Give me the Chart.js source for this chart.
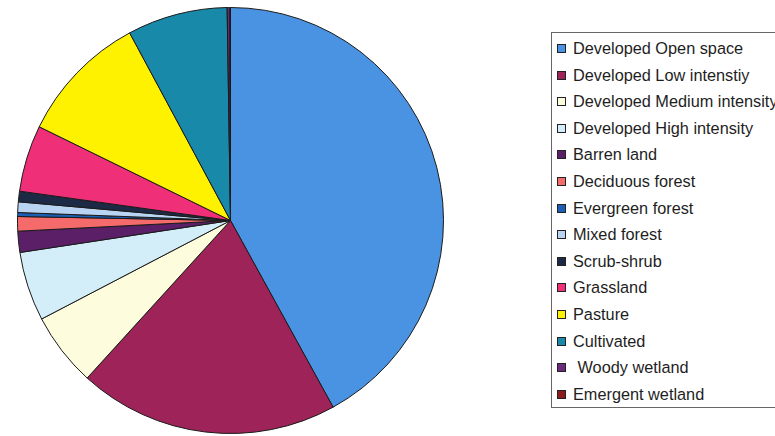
<!DOCTYPE html>
<html>
<head>
<meta charset="utf-8">
<script src="https://cdn.jsdelivr.net/npm/chart.js@4/dist/chart.umd.min.js"></script>
<style>
  html, body { margin: 0; padding: 0; background: #fff; }
  body { width: 775px; height: 436px; overflow: hidden; position: relative; font-family: "Liberation Sans", Arial, sans-serif; }
  #pieWrap { position: absolute; left: 17px; top: 7px; width: 427px; height: 427px; }
  #legend { position: absolute; left: 551px; top: 32px; width: 270px; height: 376px; border: 1px solid #666; box-sizing: border-box; padding-top: 2px; }
  .item { height: 26.6px; line-height: 26.6px; font-size: 16.3px; color: #1e1e1e; white-space: pre; position: relative; padding-left: 21px; }
  .box { position: absolute; left: 5px; top: 9px; width: 7px; height: 7px; border: 1px solid #222; }
</style>
</head>
<body>
<div id="pieWrap"><canvas id="c"></canvas></div>
<div id="legend"></div>
<script>
const categories = [
  "Developed Open space",
  "Developed Low intenstiy",
  "Developed Medium intensity",
  "Developed High intensity",
  "Barren land",
  "Deciduous forest",
  "Evergreen forest",
  "Mixed forest",
  "Scrub-shrub",
  "Grassland",
  "Pasture",
  "Cultivated",
  " Woody wetland",
  "Emergent wetland"
];
const percentValues = [42.0, 19.75, 5.6, 5.25, 1.6, 1.1, 0.3, 0.8, 0.8, 5.05, 9.9, 7.6, 0.2, 0.05];
const sliceColors = [
  "#4a93e3", "#9e2359", "#fdfcdc", "#d3eef9", "#5b1f68", "#f56b6b", "#1b5fb4",
  "#b9d3f3", "#1c2a45", "#ef2f78", "#fff200", "#1989a9", "#6b2a7b", "#8c1c1c"
];

const chart = new Chart(document.getElementById('c'), {
  type: 'pie',
  data: {
    labels: categories,
    datasets: [{
      data: percentValues,
      backgroundColor: sliceColors,
      borderColor: '#1a1a1a',
      borderWidth: 1
    }]
  },
  options: {
    responsive: true,
    maintainAspectRatio: false,
    animation: false,
    layout: { padding: 0 },
    plugins: { legend: { display: false }, tooltip: { enabled: false } }
  }
});

const legendEl = document.getElementById('legend');
chart.data.labels.forEach((lab, i) => {
  const row = document.createElement('div');
  row.className = 'item';
  const b = document.createElement('span');
  b.className = 'box';
  b.style.background = chart.data.datasets[0].backgroundColor[i];
  row.appendChild(b);
  row.appendChild(document.createTextNode(lab));
  legendEl.appendChild(row);
});
</script>
</body>
</html>
